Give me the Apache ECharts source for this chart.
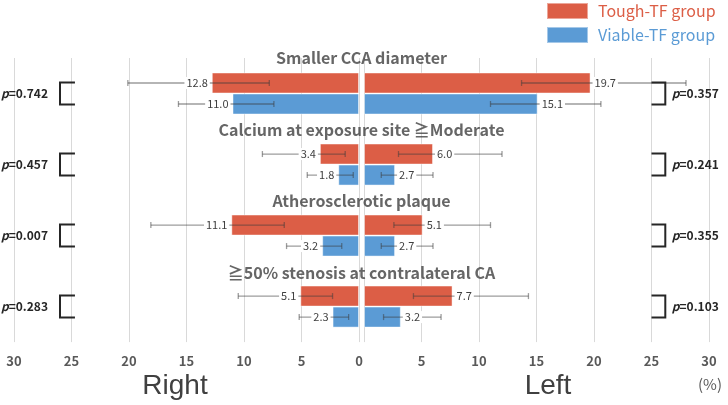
<!DOCTYPE html>
<html><head><meta charset="utf-8">
<script src="https://cdn.jsdelivr.net/npm/echarts@6/dist/echarts.min.js"></script>
<style>html,body{margin:0;padding:0;background:#fff}#c{width:728px;height:405px}</style>
</head><body><div id="c"></div>
<script>
const categories = ['Smaller CCA diameter', 'Calcium at exposure site \u2267Moderate', 'Atherosclerotic plaque', '\u226750% stenosis at contralateral CA'];
const toughRight = [12.8, 3.4, 11.1, 5.1];
const viableRight = [11.0, 1.8, 3.2, 2.3];
const toughLeft = [19.7, 6.0, 5.1, 7.7];
const viableLeft = [15.1, 2.7, 2.7, 3.2];
const toughRightCI = [[7.8, 20.1], [1.2, 8.4], [6.5, 18.1], [2.3, 10.5]];
const viableRightCI = [[7.4, 15.7], [0.5, 4.5], [1.5, 6.3], [0.9, 5.2]];
const toughLeftCI = [[13.7, 28.0], [3.0, 12.0], [2.6, 11.0], [4.3, 14.3]];
const viableLeftCI = [[11.0, 20.6], [1.5, 6.0], [1.5, 6.0], [1.7, 6.7]];
const pRight = ['0.742', '0.457', '0.007', '0.283'];
const pLeft = ['0.357', '0.241', '0.355', '0.103'];
const seriesNames = ['Tough-TF group', 'Viable-TF group'];
const sideNames = ['Right', 'Left'];

const RED = '#DC5E46', BLUE = '#5B9BD5';
const FONT = '"Noto Sans CJK JP", "Noto Sans", sans-serif';
const GTOP = 58, GH = 286;

const chart = echarts.init(document.getElementById('c'));

function errRender(offset, side) {
  return function (params, api) {
    const cat = api.value(1), v = api.value(0), lo = api.value(2), hi = api.value(3);
    const pLo = api.coord([lo, cat]), pHi = api.coord([hi, cat]), pV = api.coord([v, cat]);
    const y = pV[1] + offset;
    const st = { stroke: 'rgba(60,60,60,0.5)', lineWidth: 1.3 };
    return { type: 'group', children: [
      { type: 'line', shape: { x1: pLo[0], y1: y, x2: pHi[0], y2: y }, style: st },
      { type: 'line', shape: { x1: pLo[0], y1: y - 3, x2: pLo[0], y2: y + 3 }, style: st },
      { type: 'line', shape: { x1: pHi[0], y1: y - 3, x2: pHi[0], y2: y + 3 }, style: st },
      { type: 'text', x: pV[0] + side * 2, y: y, style: {
        text: v.toFixed(1), align: side < 0 ? 'right' : 'left', verticalAlign: 'middle',
        fill: '#404040', fontSize: 11, fontFamily: FONT, backgroundColor: '#fff', padding: [1, 2, 0, 2] } }
    ] };
  };
}

function bracketRender(side, pvals) {
  return function (params, api) {
    const cat = api.value(1);
    const pIn = api.coord([side < 0 ? 24.7 : 25.0, cat]);
    const pOut = api.coord([side < 0 ? 26.0 : 26.2, cat]);
    const y = pIn[1], h = 11;
    return { type: 'group', children: [
      { type: 'polyline', shape: { points: [[pIn[0], y - h], [pOut[0], y - h], [pOut[0], y + h], [pIn[0], y + h]] },
        style: { stroke: '#262626', lineWidth: 2, fill: null } },
      { type: 'text', x: pOut[0] + (side < 0 ? -12 : 6.5), y: y, style: {
        text: '{i|p}{b|=' + pvals[params.dataIndex] + '}', align: side < 0 ? 'right' : 'left', verticalAlign: 'middle',
        rich: { i: { fontStyle: 'italic', fontWeight: 'bold', fontSize: 12, fill: '#262626', fontFamily: FONT },
                b: { fontWeight: 'bold', fontSize: 12, fill: '#262626', fontFamily: FONT } } } }
    ] };
  };
}

function xAxisCfg(gi, inverse, name, pad) {
  return {
    gridIndex: gi, type: 'value', min: 0, max: 30, interval: 5, inverse: inverse,
    axisLine: { show: false }, axisTick: { show: false },
    splitLine: { show: true, lineStyle: { color: '#d9d9d9', width: 1 } },
    axisLabel: { color: '#595959', fontSize: 13, fontWeight: 'bold', margin: 12, fontFamily: FONT, showMinLabel: inverse },
    name: name, nameLocation: 'middle', nameGap: 27,
    nameTextStyle: { fontSize: 28, color: '#404040', fontFamily: '"Liberation Sans", Arial, sans-serif', padding: pad }
  };
}
function yAxisCfg(gi) {
  return { gridIndex: gi, type: 'category', data: categories, inverse: true, show: false };
}
const barItem = (c) => ({ color: c, borderColor: 'rgba(255,255,255,0.45)', borderWidth: 1 });
const ciData = (vals, ci) => vals.map((v, i) => [v, i, ci[i][0], ci[i][1]]);

const option = {
  animation: false,
  backgroundColor: '#fff',
  textStyle: { fontFamily: FONT },
  title: { text: '(%)', right: 1, top: 372, textStyle: { fontSize: 15, fontWeight: 'normal', color: '#595959', fontFamily: FONT } },
  legend: {
    orient: 'vertical', left: 546, top: 2, padding: 0, itemWidth: 41, itemHeight: 16, itemGap: 6, icon: 'rect',
    selectedMode: false,
    textStyle: { fontSize: 16, fontWeight: 'normal', fontFamily: FONT, padding: [0, 0, 0, 5] },
    data: [{ name: seriesNames[0], textStyle: { color: RED } }, { name: seriesNames[1], textStyle: { color: BLUE } }]
  },
  grid: [
    { left: 14, width: 345, top: GTOP, height: GH },
    { left: 364, width: 345, top: GTOP, height: GH },
    { left: 14, right: 19, top: GTOP, height: GH }
  ],
  xAxis: [
    xAxisCfg(0, true, sideNames[0], [0, 23, 0, 0]),
    xAxisCfg(1, false, sideNames[1], [0, 0, 0, 23]),
    { gridIndex: 2, type: 'value', min: -1, max: 1, show: false }
  ],
  yAxis: [yAxisCfg(0), yAxisCfg(1), { gridIndex: 2, type: 'value', min: 0, max: 4, inverse: true, show: false }],
  series: [
    { name: seriesNames[0], type: 'bar', xAxisIndex: 0, yAxisIndex: 0, data: toughRight, barWidth: 21, barGap: '0%', itemStyle: barItem(RED) },
    { name: seriesNames[1], type: 'bar', xAxisIndex: 0, yAxisIndex: 0, data: viableRight, barWidth: 21, barGap: '0%', itemStyle: barItem(BLUE) },
    { name: seriesNames[0], type: 'bar', xAxisIndex: 1, yAxisIndex: 1, data: toughLeft, barWidth: 21, barGap: '0%', itemStyle: barItem(RED) },
    { name: seriesNames[1], type: 'bar', xAxisIndex: 1, yAxisIndex: 1, data: viableLeft, barWidth: 21, barGap: '0%', itemStyle: barItem(BLUE) },
    { type: 'custom', xAxisIndex: 0, yAxisIndex: 0, z: 5, silent: true, renderItem: errRender(-10.5, -1), data: ciData(toughRight, toughRightCI), encode: { x: [0, 2, 3], y: 1 } },
    { type: 'custom', xAxisIndex: 0, yAxisIndex: 0, z: 5, silent: true, renderItem: errRender(10.5, -1), data: ciData(viableRight, viableRightCI), encode: { x: [0, 2, 3], y: 1 } },
    { type: 'custom', xAxisIndex: 1, yAxisIndex: 1, z: 5, silent: true, renderItem: errRender(-10.5, 1), data: ciData(toughLeft, toughLeftCI), encode: { x: [0, 2, 3], y: 1 } },
    { type: 'custom', xAxisIndex: 1, yAxisIndex: 1, z: 5, silent: true, renderItem: errRender(10.5, 1), data: ciData(viableLeft, viableLeftCI), encode: { x: [0, 2, 3], y: 1 } },
    { type: 'custom', xAxisIndex: 0, yAxisIndex: 0, z: 5, silent: true, renderItem: bracketRender(-1, pRight), data: categories.map((c, i) => [25, i]), encode: { x: 0, y: 1 } },
    { type: 'custom', xAxisIndex: 1, yAxisIndex: 1, z: 5, silent: true, renderItem: bracketRender(1, pLeft), data: categories.map((c, i) => [25, i]), encode: { x: 0, y: 1 } },
    { type: 'scatter', xAxisIndex: 2, yAxisIndex: 2, silent: true, symbolSize: 1, z: 6,
      itemStyle: { color: 'rgba(0,0,0,0)' },
      labelLayout: { hideOverlap: false },
      data: categories.map((c, i) => [0, i]),
      label: { show: true, position: 'inside', formatter: (p) => categories[p.dataIndex], fontSize: 16, fontWeight: 'bold', color: '#404040', fontFamily: FONT } }
  ]
};
chart.setOption(option);
</script>
</body></html>
